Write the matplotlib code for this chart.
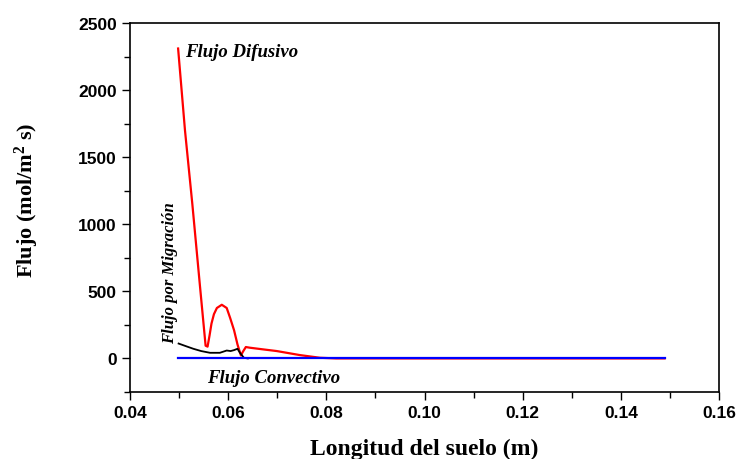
import matplotlib.pyplot as plt
from matplotlib.ticker import MultipleLocator, FormatStrFormatter

# Flujo difusivo (rojo)
x_difusivo = [0.0498, 0.0512, 0.0527, 0.0542, 0.0550, 0.0554, 0.0558, 0.0562, 0.0566,
              0.0571, 0.0577, 0.0587, 0.0597, 0.0604, 0.0612, 0.0619, 0.0626, 0.0630,
              0.0636, 0.0644, 0.0670, 0.0699, 0.0746, 0.0787, 0.0820, 0.1000, 0.1200,
              0.1489]
y_difusivo = [2310, 1700, 1150, 560, 250, 95, 88, 170, 260,
              330, 376, 400, 376, 302, 210, 104, 22, 50,
              85, 80, 68, 55, 25, 5, 0, 0, 0,
              0]

# Flujo por migracion (negro)
x_migracion = [0.0499, 0.0515, 0.0529, 0.0545, 0.0563, 0.0583, 0.0597, 0.0605,
               0.0612, 0.0619, 0.0624, 0.0632, 0.0640]
y_migracion = [111, 90, 72, 55, 42, 42, 59, 55, 62, 72, 42, 5, 0]

# Flujo convectivo (azul)
x_convectivo = [0.0498, 0.1489]
y_convectivo = [0, 0]

plt.rcParams["mathtext.fontset"] = "custom"
plt.rcParams["mathtext.rm"] = "Liberation Serif:bold"
plt.rcParams["mathtext.it"] = "Liberation Serif:bold"
plt.rcParams["mathtext.bf"] = "Liberation Serif:bold"

fig = plt.figure(figsize=(7.37, 4.6), dpi=100)
ax = fig.add_axes([0.1764, 0.1457, 0.7992, 0.8021])

ax.plot(x_difusivo, y_difusivo, color="#ff0000", linewidth=1.6)
ax.plot(x_migracion, y_migracion, color="black", linewidth=1.3)
ax.plot(x_convectivo, y_convectivo, color="#0000ff", linewidth=1.6)

ax.set_xlim(0.04, 0.16)
ax.set_ylim(-250, 2500)
ax.xaxis.set_major_locator(MultipleLocator(0.02))
ax.xaxis.set_minor_locator(MultipleLocator(0.01))
ax.xaxis.set_major_formatter(FormatStrFormatter("%.2f"))
ax.yaxis.set_major_locator(MultipleLocator(500))
ax.yaxis.set_minor_locator(MultipleLocator(250))
ax.tick_params(which="both", direction="out", width=1.0, top=False, right=False)
ax.tick_params(which="major", length=6)
ax.tick_params(which="minor", length=4)
for lbl in ax.get_xticklabels() + ax.get_yticklabels():
    lbl.set_fontfamily("Liberation Sans")
    lbl.set_fontweight("bold")
    lbl.set_fontsize(12.5)
for sp in ax.spines.values():
    sp.set_linewidth(1.2)

# etiquetas de ejes colocadas a mano
fig.text(424 / 737, 1 - 455 / 460, "Longitud del suelo (m)", ha="center", va="baseline",
         fontfamily="Liberation Serif", fontweight="bold", fontsize=17)
fig.text(27 / 737, 1 - 200 / 460, "Flujo (mol/m$^{2}$ s)", ha="center", va="center",
         rotation=90, fontfamily="Liberation Serif", fontweight="bold", fontsize=16)

note = dict(fontfamily="Liberation Serif", fontweight="bold", fontstyle="italic")
ax.text(0.0512, 2290, "Flujo Difusivo", ha="left", va="center", fontsize=13.5, **note)
ax.text(0.0556, -140, "Flujo Convectivo", ha="left", va="center", fontsize=13.5, **note)
ax.text(0.0481, 118, "Flujo por Migración", ha="center", va="bottom",
        rotation=90, fontsize=12, **note)

fig.savefig("out.png", dpi=100)
